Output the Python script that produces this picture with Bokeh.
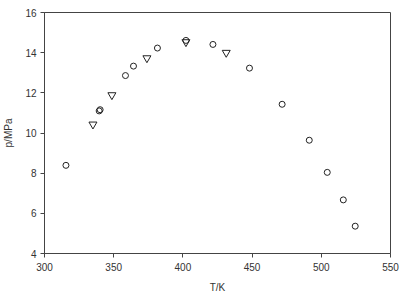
from bokeh.plotting import figure
from bokeh.embed import file_html
from bokeh.resources import INLINE
from bokeh.models import Range1d, FixedTicker

circ_T = [315.5, 339.5, 340.2, 358.5, 364.3, 381.6, 402.2, 421.7, 448.1, 471.7, 491.3, 504.3, 515.9, 524.5]
circ_p = [8.39, 11.10, 11.16, 12.86, 13.33, 14.23, 14.61, 14.41, 13.23, 11.43, 9.64, 8.04, 6.67, 5.36]
tri_T = [335.0, 348.7, 374.0, 402.2, 431.3]
tri_p = [10.43, 11.89, 13.73, 14.53, 14.00]
x_ticks = [300, 350, 400, 450, 500, 550]
y_ticks = [4, 6, 8, 10, 12, 14, 16]

p = figure(width=406, height=299, output_backend="svg", toolbar_location=None,
           x_range=Range1d(300, 550), y_range=Range1d(4, 16),
           min_border_left=44, min_border_right=16, min_border_top=12, min_border_bottom=46)
p.border_fill_color = "white"
p.background_fill_color = "white"
p.grid.visible = False
p.outline_line_color = "#444444"
p.outline_line_width = 1

for ax in (p.xaxis[0], p.yaxis[0]):
    ax.axis_line_color = "#444444"
    ax.major_tick_line_color = "#444444"
    ax.major_tick_out = 4
    ax.major_tick_in = 0
    ax.minor_tick_line_color = None
    ax.major_label_text_font = "Liberation Sans"
    ax.major_label_text_font_size = "10px"
    ax.major_label_text_color = "#333333"
    ax.axis_label_text_font = "Liberation Sans"
    ax.axis_label_text_font_size = "10px"
    ax.axis_label_text_font_style = "normal"
    ax.axis_label_text_color = "#333333"

p.xaxis[0].ticker = FixedTicker(ticks=x_ticks)
p.yaxis[0].ticker = FixedTicker(ticks=y_ticks)
p.xaxis[0].major_label_standoff = 5
p.yaxis[0].major_label_standoff = 4
p.xaxis.axis_label = "T/K"
p.yaxis.axis_label = "p/MPa"
p.xaxis[0].axis_label_standoff = 8
p.yaxis[0].axis_label_standoff = 8

p.scatter(circ_T, circ_p, marker="circle", size=6, fill_color=None, line_color="#222222", line_width=1)
p.scatter(tri_T, tri_p, marker="inverted_triangle", size=8, fill_color=None, line_color="#222222", line_width=1)

open("out.html", "w").write(file_html(p, INLINE))
